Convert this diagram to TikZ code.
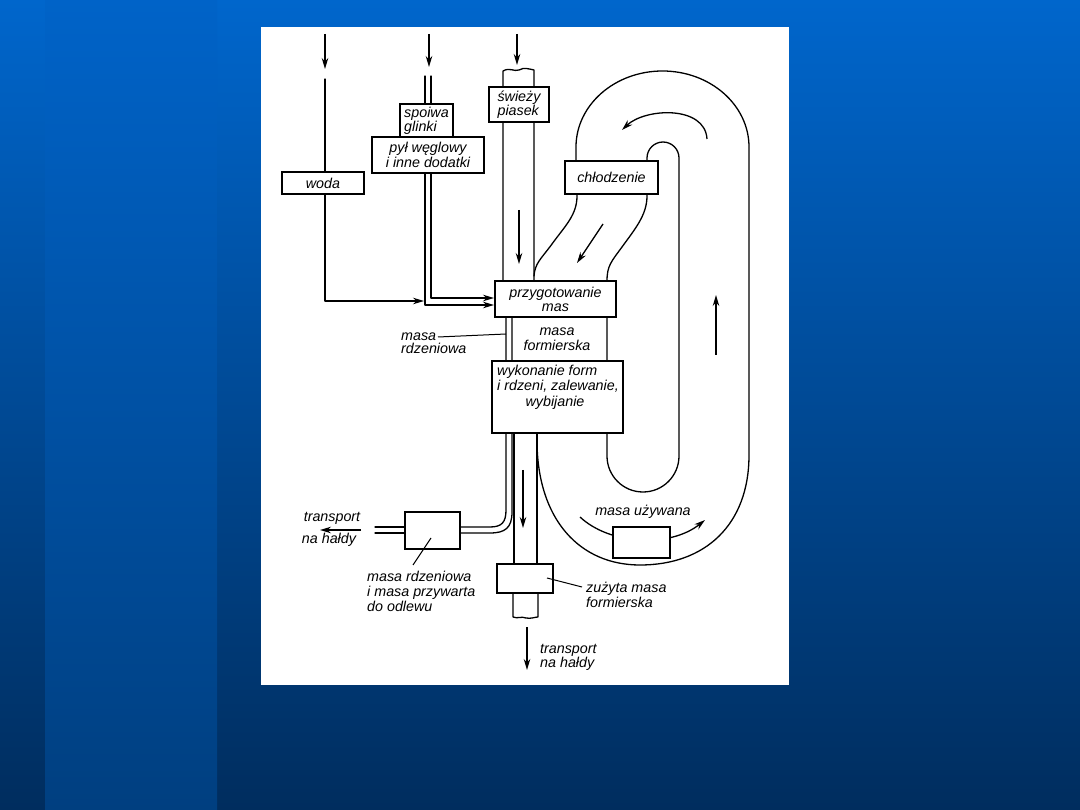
\documentclass[tikz,border=0pt]{standalone}
\usepackage{fontspec}
\setmainfont{Liberation Sans}
\usetikzlibrary{arrows.meta}
\definecolor{bgtop}{RGB}{0,102,204}
\definecolor{bgbot}{RGB}{0,45,94}
\definecolor{striptop}{RGB}{0,99,200}
\definecolor{stripbot}{RGB}{0,63,128}
\newcommand\dlbl{\fontsize{14.3}{14}\selectfont\itshape}
\begin{document}
\begin{tikzpicture}[x=1pt,y=-1pt,
  pipe/.style={line width=1.3pt, line cap=round, line join=round},
  flow/.style={line width=1.3pt, line join=round, -{Stealth[length=11pt,width=6.5pt]}},
  lead/.style={line width=1pt},
  box/.style={draw, line width=2.2pt, fill=white, inner sep=0pt, font=\dlbl},
  lbl/.style={font=\dlbl, inner sep=0pt},
]
% background
\shade[top color=bgtop, bottom color=bgbot] (0,0) rectangle (1080,810);
\shade[top color=striptop, bottom color=stripbot] (45,0) rectangle (217,810);
\fill[white] (261,27) rectangle (789,685);
\useasboundingbox (0,0) rectangle (1080,810);

% ---------- pipes (behind boxes) ----------
% water line through its box
\draw[pipe] (325,79) -- (325,200);
% binders double line
\draw[pipe] (425,76) -- (425,110);
\draw[pipe] (431,76) -- (431,110);
% fresh sand pipe
\draw[pipe] (503,281) -- (503,71) .. controls (510,67) and (514,72) .. (519,70)
   .. controls (524,67) and (529,69) .. (534,70) -- (534,281);
% cooling return channel, left wall
\draw[pipe] (577,186) -- (577,196) .. controls (577,215) and (565,226) .. (552,244)
   .. controls (541,259) and (535,263) .. (534,276);
% cooling return channel right wall + inner loop
\draw[pipe] (647,186) -- (647,196) .. controls (647,215) and (635,229) .. (622,247)
   .. controls (611,262) and (607,266) .. (607,281) -- (607,456)
   arc[start angle=180, end angle=0, radius=36] -- (679,158)
   arc[start angle=0, end angle=-180, radius=16] -- (647,170);
% outer loop
\draw[pipe] (576,170) -- (576,147)
   arc[start angle=180, end angle=360, x radius=86.5, y radius=76] -- (749,455)
   .. controls (749,525) and (705,565) .. (640,565)
   .. controls (580,565) and (537,520) .. (537,440) -- (537,425);
% core sand thin channel
\draw[pipe] (506,310) -- (506,510) .. controls (506,522) and (502,527) .. (490,527) -- (450,527);
\draw[pipe] (512,310) -- (512,512) .. controls (512,528) and (505,533) .. (490,533) -- (450,533);
\draw[pipe] (415,527) -- (375,527);
\draw[pipe] (415,533) -- (375,533);
% lower main pipe
\draw[pipe] (514,425) -- (514,570);
\draw[pipe] (537,425) -- (537,570);
\draw[pipe] (513,585) -- (513,617) .. controls (518,619) and (521,616) .. (526,618)
   .. controls (531,619) and (535,617) .. (538,617) -- (538,585);
% used sand arc arrow
\draw[flow] (580,517) .. controls (610,545) and (670,548) .. (705,520);

% ---------- boxes ----------
\node[box, minimum width=82, minimum height=22] (woda) at (323,183) {woda};
\node[box, minimum width=53, minimum height=33, align=left,
      font=\fontsize{14.3}{13}\selectfont\itshape] (spoiwa) at (426.5,120.5) {spoiwa\\glinki};
\node[box, minimum width=112, minimum height=36, align=center,
      font=\fontsize{14.3}{12.5}\selectfont\itshape] (pyl) at (428,155) {pył węglowy\\i inne dodatki};
\node[box, minimum width=60, minimum height=35, align=left] (swiezy) at (519,104.5) {świeży\\piasek};
\node[box, minimum width=93, minimum height=33] (chlodz) at (611.5,177.5) {chłodzenie};
\node[box, minimum width=121, minimum height=36, align=center] (przyg) at (555.5,299) {przygotowanie\\mas};
\node[box, minimum width=131, minimum height=72] (wyk) at (557.5,397) {};
\node[box, minimum width=55, minimum height=37] (odpad) at (432.5,530.5) {};
\node[box, minimum width=56, minimum height=29] (zuzyta) at (525,578.5) {};
\node[box, minimum width=57, minimum height=31] (uzyw) at (641.5,542.5) {};

% ---------- texts ----------
\node[lbl, anchor=north west, align=left, font=\fontsize{14.3}{15}\selectfont\itshape]
  (wyktxt) at (497,365) {wykonanie form\\i rdzeni, zalewanie,};
\node[lbl] (wyktxt2) at (555,403) {wybijanie};
\node[lbl, align=center, font=\fontsize{14.3}{15}\selectfont\itshape] (mform) at (557,339.5) {masa\\formierska};
\node[lbl, anchor=west, align=left, font=\fontsize{14.3}{13}\selectfont\itshape] (mrdz) at (401,343.5) {masa\\rdzeniowa};
\node[lbl] (trl1) at (332,518) {transport};
\node[lbl] (trl2) at (329,540) {na hałdy};
\node[lbl, anchor=west, align=left, font=\fontsize{14.3}{15}\selectfont\itshape] (mprz) at (367,591) {masa rdzeniowa\\i masa przywarta\\do odlewu};
\node[lbl, anchor=west, align=left, font=\fontsize{14.3}{15}\selectfont\itshape] (zuztxt) at (586,594.5) {zużyta masa\\formierska};
\node[lbl] (uzytxt) at (643,512) {masa używana};
\node[lbl, anchor=west, align=left] (trb) at (540,657) {transport\\na hałdy};

% ---------- leader lines ----------
\draw[lead] (438,337) -- (506,334);
\draw[lead] (431,538) -- (413,565);
\draw[lead] (547,578) -- (582,587);

% ---------- arrows ----------
\draw[flow] (325,34) -- (325,69);
\draw[flow] (429,34) -- (429,67);
\draw[flow] (517,34) -- (517,65);
\draw[flow] (325,194) -- (325,301) -- (424,301);
\draw[flow] (425,173) -- (425,305) -- (494,305);
\draw[flow] (431,173) -- (431,298) -- (494,298);
\draw[flow] (519,210) -- (519,264);
\draw[flow] (603,224) -- (577,263);
\draw[flow] (707,139) .. controls (705,105) and (645,108) .. (622,130);
\draw[flow] (716,355) -- (716,295);
\draw[flow] (523,470) -- (523,528);
\draw[flow] (361,530) -- (320,530);
\draw[flow] (527,627) -- (527,670);
\end{tikzpicture}
\end{document}
